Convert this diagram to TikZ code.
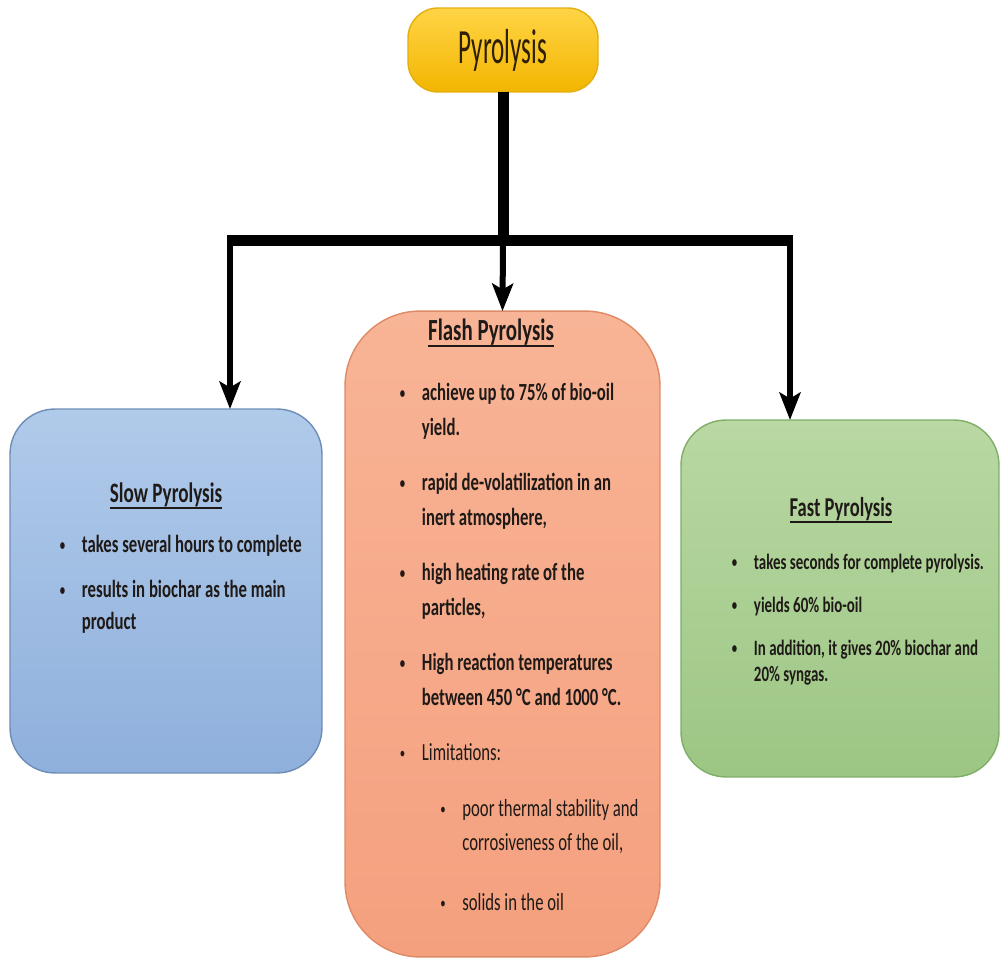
\documentclass[tikz,border=0pt]{standalone}
\usepackage{fontspec}
\setmainfont{Carlito}[FakeStretch=0.68]
\newfontfamily\ttlfont{Carlito}[FakeStretch=0.51]
\usetikzlibrary{arrows.meta}
\definecolor{txt}{HTML}{1F1A17}
\definecolor{ttl}{HTML}{2E1E05}
\definecolor{ylwT}{HTML}{FFD446}
\definecolor{ylwB}{HTML}{F2B600}
\definecolor{ylwD}{HTML}{E5AE10}
\definecolor{bluT}{HTML}{B0CAEA}
\definecolor{bluB}{HTML}{8FB0DC}
\definecolor{bluD}{HTML}{6E8DB6}
\definecolor{salT}{HTML}{F8B496}
\definecolor{salB}{HTML}{F4A07E}
\definecolor{salD}{HTML}{DF8A66}
\definecolor{grnT}{HTML}{B9D8A3}
\definecolor{grnB}{HTML}{9CC684}
\definecolor{grnD}{HTML}{80AE68}
\newcommand{\bpt}{\makebox[14pt][l]{\hspace*{1.5pt}\raisebox{1.2pt}{\fontsize{9}{9}\selectfont\textbullet}}}
\newcommand{\bsp}{\hspace*{14pt}}
\newsavebox{\hdbox}
\newcommand{\uhd}[1]{\sbox{\hdbox}{#1}\rlap{\rule[-3.6pt]{\wd\hdbox}{1.5pt}}\usebox{\hdbox}}
\begin{document}
\begin{tikzpicture}[x=0.02cm,y=-0.02cm]
	\tikzset{box/.style={rectangle, inner sep=0pt, outer sep=0pt, line width=0.8pt},
		hd/.style={anchor=base, inner sep=0pt, text=txt, font=\fontsize{16}{19}\selectfont\bfseries},
		lst/.style={anchor=base west, inner sep=0pt, text=txt},
		bar/.style={line width=0.22cm},
		drop/.style={line width=0.12cm, -{Stealth[length=0.55cm,width=0.42cm,inset=0.12cm]}}}
	\useasboundingbox (0,0) rectangle (1002,962);
	% boxes
	\node[box, rounded corners=0.6cm, top color=ylwT, bottom color=ylwB, draw=ylwD, minimum width=3.8cm, minimum height=1.68cm, text=ttl, font=\ttlfont\fontsize{28}{30}\selectfont] (py) at (503,50) {Pyrolysis};
	\node[box, rounded corners=0.9cm, top color=bluT, bottom color=bluB, draw=bluD, minimum width=6.24cm, minimum height=7.28cm] (sl) at (166,591) {};
	\node[box, rounded corners=1.5cm, top color=salT, bottom color=salB, draw=salD, minimum width=6.3cm, minimum height=12.92cm] (fl) at (502.5,634) {};
	\node[box, rounded corners=0.9cm, top color=grnT, bottom color=grnB, draw=grnD, minimum width=6.36cm, minimum height=7.14cm] (fs) at (840,598.5) {};
	% connectors
	\coordinate (jn) at (503,241);
	\coordinate (jl) at (230,241);
	\coordinate (jr) at (790,241);
	\draw[bar] (py.south) -- (jn);
	\draw[bar, shorten <=-1.7pt, shorten >=-1.7pt] (jl) -- (jr);
	\draw[drop] (jl) -- (jl |- sl.north);
	\draw[drop] (jn) -- (fl.north);
	\draw[drop] (jr) -- (jr |- fs.north);
	% headings
	\node[hd] (slh) at (166,503) {\uhd{Slow Pyrolysis}};
	\node[hd, font=\fontsize{17.5}{20}\selectfont\bfseries] (flh) at (491,341) {\uhd{Flash Pyrolysis}};
	\node[hd, font=\fontsize{15.5}{18}\selectfont\bfseries] (fsh) at (841,517) {\uhd{Fast Pyrolysis}};
	% lists
	\node[lst, font=\fontsize{14}{18.1}\selectfont\bfseries] (sll) at (57,553) {\begin{tabular}[t]{@{}l@{}}
		\bpt takes several hours to complete\\[7.4pt]
		\bpt results in biochar as the main\\
		\bsp product
	\end{tabular}};
	\node[lst, font=\fontsize{14}{19.5}\selectfont\bfseries] (fll) at (397,401) {\begin{tabular}[t]{@{}l@{}}
		\bpt achieve up to 75\% of bio-oil\\
		\bsp yield.\\[12.2pt]
		\bpt rapid de-volatilization in an\\
		\bsp inert atmosphere,\\[12.2pt]
		\bpt high heating rate of the\\
		\bsp particles,\\[12.2pt]
		\bpt High reaction temperatures\\
		\bsp between 450 °C and 1000 °C.\\[12.2pt]
		\mdseries\bpt Limitations:\\[12.2pt]
		\mdseries\hspace*{23pt}\bpt poor thermal stability and\\
		\mdseries\hspace*{37pt}corrosiveness of the oil,\\[14.5pt]
		\mdseries\hspace*{23pt}\bpt solids in the oil
	\end{tabular}};
	\node[lst, font=\fontsize{12.5}{14.7}\selectfont\bfseries] (fsl) at (729,570) {\begin{tabular}[t]{@{}l@{}}
		\bpt takes seconds for complete pyrolysis.\\[9.7pt]
		\bpt yields 60\% bio-oil\\[9.7pt]
		\bpt In addition, it gives 20\% biochar and\\
		\bsp 20\% syngas.
	\end{tabular}};
\end{tikzpicture}
\end{document}
